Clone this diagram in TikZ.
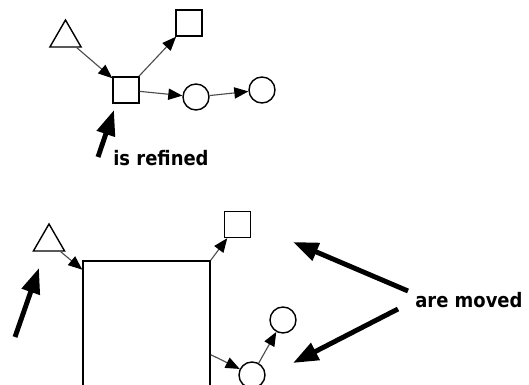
\documentclass[tikz,border=0pt]{standalone}
\usepackage{fontspec}
\setmainfont{DejaVu Sans}[FakeStretch=0.9]
\usetikzlibrary{arrows.meta}
\usetikzlibrary{shapes.geometric}
\tikzset{
box/.style={draw,line width=1pt,minimum size=0.65cm,inner sep=0pt},
bigbox/.style={draw,line width=1pt,minimum width=3.175cm,minimum height=4cm,inner sep=0pt},
ball/.style={draw,circle,line width=1pt,minimum size=0.65cm,inner sep=0pt},
tri/.style={draw,regular polygon,regular polygon sides=3,line width=1pt,minimum size=0.9cm,inner sep=0pt},
edge/.style={draw=black!70,line width=0.8pt,-{Triangle[length=10pt,width=8pt,color=black]}},
pointer/.style={line width=3.5pt,-{Triangle[length=18pt,width=13pt]}},
note/.style={font=\bfseries\fontsize{14.2}{17}\selectfont,inner sep=0pt,anchor=base west},
}

\begin{document}
\begin{tikzpicture}[x=0.025cm,y=-0.025cm]
            \clip (0,0) rectangle (529,385);
            % before
            \node[tri] (triA) at (65.5,38) {};
            \node[box] (sqA) at (126,90) {};
            \node[box] (sqTopA) at (189,23) {};
            \node[ball] (cirA) at (196,97) {};
            \node[ball] (cirB) at (262,90) {};
            \draw[edge] (triA) -- (sqA);
            \draw[edge] (sqA) -- (sqTopA);
            \draw[edge] (sqA) -- (cirA);
            \draw[edge] (cirA) -- (cirB);
            \node[note] (refined) at (113,166) {is refined};
            \coordinate (refTail) at (98,157);
            \coordinate (refTip) at (114,110);
            \draw[pointer] (refTail) -- (refTip);
            % after
            \node[tri] (triB) at (49,242) {};
            \node[bigbox] (big) at (146.5,341) {};
            \node[box] (sqTopB) at (237.5,224.5) {};
            \node[ball] (cirC) at (252,375) {};
            \node[ball] (cirD) at (283,320) {};
            \draw[edge] (triB) -- (big.132);
            \draw[edge] (big.north east) -- (sqTopB);
            \draw[edge] (big.-12) -- (cirC);
            \draw[edge] (cirC) -- (cirD);
            \coordinate (triTail) at (15,337);
            \coordinate (triTip) at (39,268);
            \draw[pointer] (triTail) -- (triTip);
            \node[note] (moved) at (415,308) {are moved};
            \coordinate (movTailA) at (408,291);
            \coordinate (movTipA) at (293,242);
            \coordinate (movTailB) at (398,309);
            \coordinate (movTipB) at (293,363);
            \draw[pointer] (movTailA) -- (movTipA);
            \draw[pointer] (movTailB) -- (movTipB);
        \end{tikzpicture}
\end{document}
